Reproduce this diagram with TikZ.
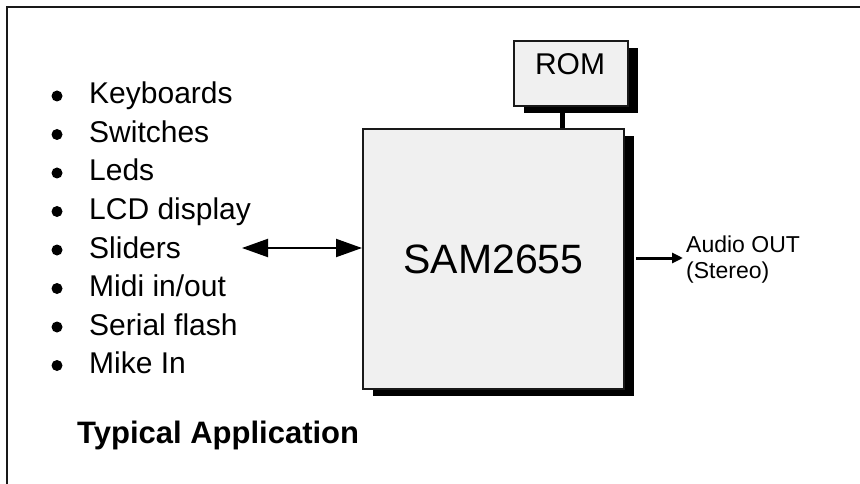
\documentclass[tikz,border=0pt]{standalone}
\usepackage{fontspec}
\setmainfont{Liberation Sans}
\usetikzlibrary{arrows.meta,shadows}
\definecolor{boxfill}{HTML}{F0F0F0}
\begin{document}
\begin{tikzpicture}[x=1pt,y=-1pt,
  chip/.style={draw=black!90, line width=2pt, fill=boxfill, inner sep=0pt,
    drop shadow={shadow xshift=10pt, shadow yshift=-7pt, fill=black, opacity=1}},
  item/.style={anchor=base west, inner sep=0pt, font=\fontsize{30}{36}\selectfont},
  dot/.style={fill=black, circle, inner sep=0pt, minimum size=11pt},
  frame/.style={line width=2pt, draw=black!90}]
\useasboundingbox (0,0) rectangle (860,484);
% partial frame
\coordinate (ftr) at (860,7);
\coordinate (ftl) at (7,7);
\coordinate (fbl) at (7,484);
\draw[frame] (ftr) -- (ftl) -- (fbl);
% chips
\node[chip, minimum width=114pt, minimum height=65pt] (rom) at (571,73.5) {};
\node[anchor=base, inner sep=0pt, font=\fontsize{30}{36}\selectfont] (romtxt) at (570,75) {ROM};
\node[chip, minimum width=261pt, minimum height=260pt] (sam) at (493.5,259) {};
\node[inner sep=0pt, font=\fontsize{41}{48}\selectfont] (samtxt) at (sam.center) {SAM2655};
\draw[line width=5pt] (rom.south -| 562,0) ++(0,3) -- (sam.north -| 562,0);
% list
\foreach \t [count=\i from 0] in {Keyboards,Switches,Leds,LCD display,Sliders,Midi in/out,Serial flash,Mike In}{
  \node[item] (it\i) at (89,104+38.5*\i) {\t};
  \node[dot] (bu\i) at (57,96+38.5*\i) {};
}
\coordinate (lend) at (242,248);
\draw[line width=2pt, {Triangle[length=26pt,width=18pt]}-{Triangle[length=26pt,width=18pt]}] (lend) -- (sam.west |- lend);
% output
\coordinate (oend) at (683,258);
\draw[line width=3pt, -{Triangle[length=11pt,width=10pt]}] (636,258) -- (oend);
\node[anchor=base west, inner sep=0pt, align=left, font=\fontsize{23}{26}\selectfont] (audio) at (686,278) {Audio OUT\\(Stereo)};
% caption
\node[anchor=base west, inner sep=0pt, font=\fontsize{31}{37}\selectfont\bfseries] (cap) at (77,443) {Typical Application};
\end{tikzpicture}
\end{document}
